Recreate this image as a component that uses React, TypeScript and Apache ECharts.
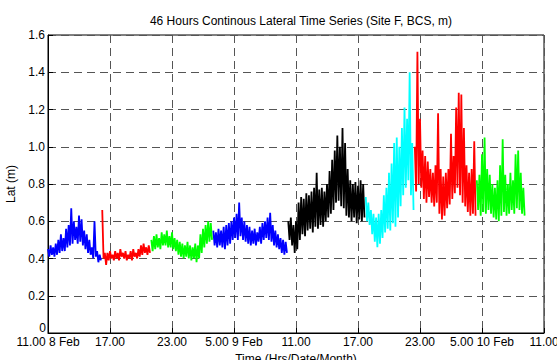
import React, { useEffect, useRef } from "react";
import * as echarts from "echarts";

const TITLE = "46 Hours Continous Lateral Time Series (Site F, BCS, m)";
const X_NAME = "Time (Hrs/Date/Month)";
const Y_NAME = "Lat (m)";
const X_TICK_LABELS = ["11.00 8 Feb", "17.00", "23.00", "5.00 9 Feb", "11.00", "17.00", "23.00", "5.00 10 Feb", "11.00"];

// hours since 11.00 8 Feb; each segment sampled every 0.25 h, upper/lower envelope (m)
const STEP = 0.25;

const blue1Start = 0;
const blue1Upper = [0.45, 0.47, 0.46, 0.48, 0.50, 0.53, 0.51, 0.56, 0.58, 0.67, 0.60, 0.57, 0.63, 0.61, 0.55, 0.53, 0.50, 0.46, 0.60, 0.44, 0.42];
const blue1Lower = [0.41, 0.42, 0.41, 0.42, 0.43, 0.44, 0.44, 0.46, 0.47, 0.48, 0.50, 0.48, 0.49, 0.47, 0.45, 0.43, 0.42, 0.40, 0.41, 0.38, 0.39];

const red1Start = 5.25;
const red1Upper = [0.66, 0.43, 0.43, 0.44, 0.42, 0.44, 0.43, 0.45, 0.43, 0.44, 0.42, 0.44, 0.45, 0.43, 0.45, 0.47, 0.48, 0.46, 0.47];
const red1Lower = [0.40, 0.365, 0.39, 0.40, 0.39, 0.40, 0.39, 0.41, 0.40, 0.39, 0.40, 0.39, 0.41, 0.40, 0.41, 0.42, 0.43, 0.42, 0.43];

const green1Start = 10;
const green1Upper = [0.50, 0.52, 0.53, 0.51, 0.54, 0.53, 0.55, 0.52, 0.54, 0.51, 0.50, 0.49, 0.48, 0.47, 0.49, 0.47, 0.46, 0.48, 0.47, 0.53, 0.56, 0.58, 0.60, 0.59];
const green1Lower = [0.44, 0.45, 0.46, 0.45, 0.47, 0.47, 0.46, 0.46, 0.45, 0.44, 0.42, 0.41, 0.40, 0.41, 0.40, 0.39, 0.40, 0.38, 0.40, 0.43, 0.46, 0.48, 0.49, 0.50];

const blue2Start = 16;
const blue2Upper = [0.55, 0.54, 0.56, 0.55, 0.57, 0.58, 0.59, 0.60, 0.62, 0.64, 0.70, 0.62, 0.60, 0.58, 0.57, 0.55, 0.56, 0.54, 0.57, 0.59, 0.60, 0.62, 0.645, 0.58, 0.55, 0.53, 0.51, 0.50, 0.49];
const blue2Lower = [0.47, 0.46, 0.47, 0.46, 0.45, 0.47, 0.48, 0.50, 0.51, 0.50, 0.52, 0.50, 0.49, 0.48, 0.47, 0.48, 0.47, 0.49, 0.48, 0.50, 0.51, 0.50, 0.49, 0.47, 0.46, 0.45, 0.43, 0.42, 0.43];

const blackStart = 23.25;
const blackUpper = [0.60, 0.62, 0.58, 0.60, 0.70, 0.73, 0.72, 0.75, 0.74, 0.76, 0.78, 0.86, 0.77, 0.78, 0.76, 0.80, 0.87, 0.93, 0.98, 1.06, 1.00, 1.10, 1.02, 0.88, 0.82, 0.80, 0.81, 0.79, 0.82, 0.80];
const blackLower = [0.50, 0.47, 0.43, 0.45, 0.50, 0.53, 0.52, 0.55, 0.56, 0.54, 0.57, 0.56, 0.58, 0.57, 0.60, 0.62, 0.64, 0.66, 0.70, 0.71, 0.68, 0.67, 0.63, 0.62, 0.60, 0.62, 0.59, 0.61, 0.60, 0.62];

const cyanStart = 30.75;
const cyanUpper = [0.73, 0.70, 0.66, 0.64, 0.62, 0.64, 0.66, 0.74, 0.78, 0.86, 0.91, 1.02, 1.05, 1.00, 1.10, 1.21, 1.15, 1.40, 1.02];
const cyanLower = [0.60, 0.58, 0.53, 0.49, 0.46, 0.48, 0.51, 0.54, 0.56, 0.55, 0.59, 0.57, 0.62, 0.68, 0.74, 0.78, 0.82, 0.74, 0.66];

const red2Start = 35.5;
const red2Upper = [1.00, 1.51, 1.15, 0.98, 0.95, 0.92, 0.88, 0.86, 0.90, 1.18, 0.88, 0.84, 0.86, 0.88, 1.07, 0.95, 1.21, 1.29, 1.28, 1.10, 0.90, 0.86, 0.88, 1.03];
const red2Lower = [0.76, 0.80, 0.78, 0.72, 0.70, 0.73, 0.70, 0.68, 0.70, 0.64, 0.61, 0.63, 0.67, 0.69, 0.72, 0.75, 0.78, 0.74, 0.70, 0.68, 0.65, 0.63, 0.64, 0.63];

const green2Start = 41.5;
const green2Upper = [0.82, 0.85, 0.96, 1.05, 0.88, 0.85, 0.80, 0.78, 0.82, 0.90, 1.04, 0.85, 0.80, 0.86, 0.82, 0.96, 0.98, 0.86, 0.78];
const green2Lower = [0.66, 0.63, 0.65, 0.64, 0.66, 0.64, 0.62, 0.61, 0.60, 0.63, 0.65, 0.63, 0.64, 0.66, 0.64, 0.67, 0.66, 0.64, 0.63];

const SEGMENTS = [
  { name: "blue1", color: "#0000ff", start: blue1Start, upper: blue1Upper, lower: blue1Lower },
  { name: "red1", color: "#ff0000", start: red1Start, upper: red1Upper, lower: red1Lower },
  { name: "green1", color: "#00ff00", start: green1Start, upper: green1Upper, lower: green1Lower },
  { name: "blue2", color: "#0000ff", start: blue2Start, upper: blue2Upper, lower: blue2Lower },
  { name: "black", color: "#000000", start: blackStart, upper: blackUpper, lower: blackLower },
  { name: "cyan", color: "#00ffff", start: cyanStart, upper: cyanUpper, lower: cyanLower },
  { name: "red2", color: "#ff0000", start: red2Start, upper: red2Upper, lower: red2Lower },
  { name: "green2", color: "#00ff00", start: green2Start, upper: green2Upper, lower: green2Lower },
];

function buildData(start: number, upper: number[], lower: number[]) {
  const out: number[][] = [];
  for (let i = 0; i < upper.length; i++) {
    const t = start + i * STEP;
    out.push([t, upper[i]]);
    out.push([t + STEP / 2, lower[i]]);
  }
  return out;
}

export default function App() {
  const ref = useRef<HTMLDivElement>(null);
  useEffect(() => {
    if (!ref.current) return;
    const chart = echarts.init(ref.current, null, { renderer: "svg" });
    const font = "'Liberation Sans', Arial, sans-serif";
    chart.setOption({
      animation: false,
      backgroundColor: "#ffffff",
      textStyle: { fontFamily: font },
      title: {
        text: TITLE,
        left: 296,
        top: 10,
        textAlign: "center",
        textStyle: { fontSize: 12, fontWeight: "normal", color: "#000", fontFamily: font },
      },
      grid: {
        left: 48,
        right: 13,
        top: 35,
        bottom: 27,
        show: true,
        borderColor: "#000",
        borderWidth: 1,
        containLabel: false,
        outerBoundsMode: "none",
      },
      graphic: [
        {
          type: "text",
          x: 46,
          y: 334,
          style: {
            text: "0",
            fill: "#000",
            font: "12px 'Liberation Sans', Arial, sans-serif",
            align: "right",
            verticalAlign: "bottom",
          },
          z: 10,
        },
      ],
      xAxis: {
        type: "value",
        min: 0,
        max: 48,
        interval: 6,
        name: X_NAME,
        nameLocation: "middle",
        nameGap: 15,
        nameTextStyle: { fontSize: 12, color: "#000", fontFamily: font },
        axisLine: { show: true, lineStyle: { color: "#000", width: 1 } },
        axisTick: { show: true, inside: true, length: 5, lineStyle: { color: "#000" } },
        axisLabel: {
          fontSize: 12,
          color: "#000",
          margin: 3,
          fontFamily: font,
          formatter: (v: number) => X_TICK_LABELS[Math.round(v / 6)] ?? "",
        },
        splitLine: { show: true, lineStyle: { color: "#555", type: [8, 5], width: 1 } },
      },
      yAxis: {
        type: "value",
        min: 0,
        max: 1.6,
        interval: 0.2,
        name: Y_NAME,
        nameLocation: "middle",
        nameGap: 25,
        nameTextStyle: { fontSize: 12, color: "#000", fontFamily: font },
        axisLine: { show: true, lineStyle: { color: "#000", width: 1 } },
        axisTick: { show: true, inside: true, length: 5, lineStyle: { color: "#000" } },
        axisLabel: {
          fontSize: 12,
          color: "#000",
          margin: 3,
          fontFamily: font,
          formatter: (v: number) => (Math.abs(v) < 1e-9 ? "" : v.toFixed(1)),
        },
        splitLine: { show: true, lineStyle: { color: "#555", type: [8, 5], width: 1 } },
      },
      series: SEGMENTS.map((s) => ({
        name: s.name,
        type: "line",
        data: buildData(s.start, s.upper, s.lower),
        showSymbol: false,
        symbol: "none",
        lineStyle: { color: s.color, width: 1.8 },
        itemStyle: { color: s.color },
        z: 3,
      })),
    });
    return () => chart.dispose();
  }, []);
  return <div ref={ref} style={{ position: "fixed", left: 0, top: 0, width: 557, height: 360 }} />;
}
